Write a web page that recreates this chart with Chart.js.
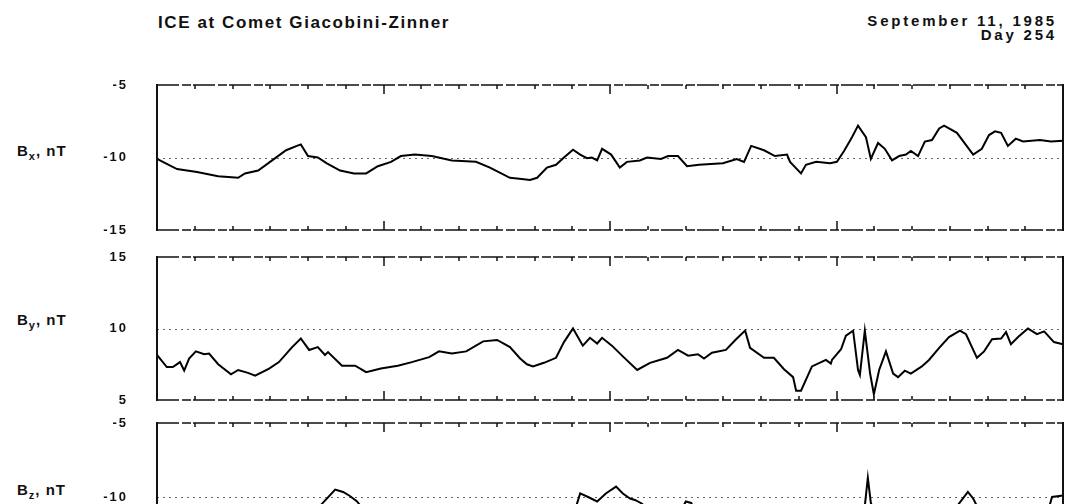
<!doctype html>
<html>
<head>
<title>ICE at Comet Giacobini-Zinner</title>
<script src="https://cdn.jsdelivr.net/npm/chart.js@4.4.0/dist/chart.umd.min.js"></script>
<style>
body { margin:0; background:#fff; overflow:hidden; width:1069px; height:504px;
       font-family:"Liberation Sans", Arial, sans-serif; font-weight:bold; color:#111; }
.txt { position:absolute; white-space:nowrap; }
.title { left:158px; top:14px; font-size:17px; line-height:17px; letter-spacing:1.6px; }
.date { right:12px; top:14px; font-size:15px; line-height:14px; letter-spacing:2.8px; text-align:right; }
.ylab { left:17px; font-size:15px; line-height:15px; letter-spacing:1px; }
.ylab sub { font-size:11px; vertical-align:-4px; line-height:0; }
canvas { position:absolute; left:0; }
</style>
</head>
<body>
<div class="txt title">ICE at Comet Giacobini-Zinner</div>
<div class="txt date">September 11, 1985<br>Day 254</div>
<div class="txt ylab" style="top:143px">B<sub>x</sub>, nT</div>
<div class="txt ylab" style="top:312px">B<sub>y</sub>, nT</div>
<div class="txt ylab" style="top:482px">B<sub>z</sub>, nT</div>

<canvas id="bx" width="1069" height="165" style="top:75px"></canvas>
<canvas id="by" width="1069" height="163" style="top:247px"></canvas>
<canvas id="bz" width="1069" height="168" style="top:413px"></canvas>

<script>
// minutes from start of the 4 hour window
var bxTime = [0, 5.3, 10.6, 16.2, 21.5, 23.3, 26.8, 30.5, 34.2, 37.4, 38.1, 40.0, 42.6, 45.0, 48.5, 52.2, 55.4, 58.5, 62.0, 64.6, 68.3, 72.8, 78.1, 84.5, 88.2, 93.5, 97.2, 98.8, 100.7, 103.3, 105.7, 107.8, 110.2, 112.1, 113.9, 115.2, 116.6, 117.9, 120.3, 122.6, 124.5, 127.9, 129.8, 133.5, 135.4, 138.0, 140.4, 143.6, 149.9, 153.6, 155.5, 157.4, 160.8, 163.7, 166.9, 167.7, 170.6, 171.9, 174.6, 178.3, 180.1, 182.0, 184.1, 185.7, 187.8, 189.1, 191.0, 192.8, 194.7, 196.6, 198.4, 199.7, 201.6, 203.4, 205.3, 207.2, 208.5, 211.9, 216.2, 218.5, 220.4, 222.0, 223.6, 225.4, 227.5, 229.4, 233.9, 236.8, 240];
var bxValues = [-10.1, -10.8, -11.0, -11.3, -11.4, -11.1, -10.9, -10.2, -9.5, -9.16, -9.1, -9.9, -10.0, -10.4, -10.9, -11.1, -11.1, -10.6, -10.3, -9.9, -9.8, -9.9, -10.2, -10.3, -10.7, -11.4, -11.5, -11.55, -11.4, -10.7, -10.5, -10.0, -9.46, -9.8, -10.05, -10.0, -10.2, -9.4, -9.8, -10.7, -10.3, -10.2, -10.0, -10.1, -9.9, -9.9, -10.6, -10.5, -10.4, -10.1, -10.3, -9.2, -9.5, -9.9, -9.8, -10.3, -11.1, -10.5, -10.3, -10.4, -10.3, -9.55, -8.6, -7.8, -8.6, -10.1, -9.0, -9.4, -10.2, -9.9, -9.8, -9.55, -9.9, -8.9, -8.8, -8.0, -7.8, -8.3, -9.8, -9.4, -8.45, -8.2, -8.3, -9.2, -8.7, -8.9, -8.8, -8.9, -8.85];

var byTime = [0, 2.6, 4.2, 6.1, 7.2, 8.5, 10.3, 12.5, 13.8, 16.2, 19.6, 21.5, 24.1, 26.0, 29.7, 32.3, 35.8, 38.1, 40.3, 42.6, 44.5, 45.3, 49.0, 52.5, 55.4, 59.3, 63.8, 67.5, 72.1, 74.7, 78.1, 81.9, 86.4, 90.1, 93.5, 96.2, 98.0, 99.6, 102.5, 105.7, 107.8, 110.2, 112.8, 114.7, 116.6, 117.9, 120.5, 123.4, 127.2, 130.6, 135.1, 138.0, 140.7, 143.3, 144.9, 147.0, 150.7, 153.4, 155.8, 157.1, 160.8, 163.4, 166.1, 168.5, 169.3, 170.6, 173.5, 177.2, 178.5, 178.8, 181.2, 182.5, 184.4, 185.7, 186.2, 187.5, 188.9, 189.9, 191.3, 193.1, 195.0, 196.3, 198.1, 199.7, 202.6, 204.5, 207.2, 209.8, 212.7, 214.3, 217.2, 219.1, 221.2, 223.6, 224.9, 226.2, 228.1, 230.7, 233.1, 235.0, 237.6, 240];
var byValues = [8.15, 7.3, 7.3, 7.65, 7.06, 7.9, 8.4, 8.2, 8.25, 7.5, 6.8, 7.1, 6.9, 6.7, 7.2, 7.65, 8.7, 9.3, 8.5, 8.7, 8.15, 8.35, 7.4, 7.4, 6.95, 7.2, 7.4, 7.65, 8.0, 8.4, 8.25, 8.4, 9.1, 9.2, 8.7, 7.9, 7.5, 7.35, 7.6, 7.95, 9.05, 10.0, 8.8, 9.35, 8.95, 9.35, 8.8, 8.05, 7.1, 7.6, 7.95, 8.5, 8.1, 8.2, 7.9, 8.3, 8.5, 9.25, 9.85, 8.65, 7.95, 7.95, 7.15, 6.6, 5.65, 5.65, 7.35, 7.8, 7.55, 7.8, 8.55, 9.5, 9.85, 7.1, 6.75, 9.85, 6.85, 5.4, 7.1, 8.4, 6.85, 6.6, 7.05, 6.85, 7.35, 7.8, 8.65, 9.4, 9.85, 9.6, 7.95, 8.4, 9.25, 9.3, 9.75, 8.9, 9.4, 10.0, 9.6, 9.8, 9.05, 8.9];

var bzTime = [0, 20, 40.5, 43.2, 47.2, 49.3, 51.1, 53.0, 55.1, 80, 109.4, 110.7, 112.1, 114.2, 116.6, 118.9, 121.6, 123.4, 125.3, 126.6, 128.5, 130.1, 137.5, 138.8, 140.1, 141.5, 142.5, 143.8, 160, 186.2, 187.5, 188.3, 189.1, 190.5, 210.3, 211.7, 214.8, 216.2, 217.2, 218.8, 235.2, 236.3, 237.1, 240];
var bzValues = [-11.8, -12.0, -11.2, -10.6, -9.5, -9.66, -9.93, -10.3, -11.0, -12.0, -11.2, -10.9, -9.76, -10.0, -10.3, -9.76, -9.3, -9.76, -10.1, -10.2, -10.45, -11.0, -11.0, -10.9, -10.3, -10.4, -10.9, -11.2, -12.0, -11.3, -10.6, -8.7, -10.4, -11.3, -11.0, -10.7, -9.65, -10.1, -10.6, -11.1, -11.2, -10.7, -10.0, -9.9];

var tickStep = 10;   // minor tick every 10 minutes
var majorStep = 60;  // long tick every hour

function points(t, v) {
    var out = [];
    for (var i = 0; i < t.length; i++) out.push({x: t[i], y: v[i]});
    return out;
}

// frame, inward ticks and the dotted middle line
var framePlugin = {
    id: 'frame',
    beforeDraw: function(chart) {
        chart.ctx.letterSpacing = '2px';
    },
    beforeDatasetsDraw: function(chart) {
        var ctx = chart.ctx, a = chart.chartArea, ys = chart.scales.y;
        var y = Math.round(ys.getPixelForValue((ys.min + ys.max) / 2)) + 0.5;
        ctx.save();
        ctx.letterSpacing = '0px';
        ctx.strokeStyle = '#666';
        ctx.lineWidth = 1;
        ctx.setLineDash([2, 4]);
        ctx.beginPath();
        ctx.moveTo(a.left, y);
        ctx.lineTo(a.right, y);
        ctx.stroke();
        ctx.restore();
    },
    afterDatasetsDraw: function(chart) {
        var ctx = chart.ctx, a = chart.chartArea, xs = chart.scales.x;
        ctx.save();
        ctx.strokeStyle = '#111';
        // top and bottom
        ctx.lineWidth = 1.5;
        ctx.setLineDash([22, 3, 9, 2]);
        ctx.beginPath();
        ctx.moveTo(a.left, a.top); ctx.lineTo(a.right, a.top);
        ctx.moveTo(a.left, a.bottom); ctx.lineTo(a.right, a.bottom);
        ctx.stroke();
        ctx.setLineDash([]);
        // sides
        ctx.lineWidth = 2;
        ctx.beginPath();
        ctx.moveTo(a.left, a.top - 1); ctx.lineTo(a.left, a.bottom + 1);
        ctx.moveTo(a.right, a.top - 1); ctx.lineTo(a.right, a.bottom + 1);
        ctx.stroke();
        // inward ticks
        ctx.lineWidth = 1.5;
        ctx.beginPath();
        for (var t = xs.min + tickStep; t < xs.max; t += tickStep) {
            var x = Math.round(xs.getPixelForValue(t));
            var len = (t % majorStep === 0) ? 9 : 4;
            ctx.moveTo(x, a.top); ctx.lineTo(x, a.top + len);
            ctx.moveTo(x, a.bottom); ctx.lineTo(x, a.bottom - len);
        }
        ctx.stroke();
        ctx.restore();
    }
};

function makeChart(id, t, v, yMin, yMax) {
    var ctx = document.getElementById(id).getContext('2d');
    return new Chart(ctx, {
        type: 'line',
        data: {
            datasets: [{
                data: points(t, v),
                borderColor: '#000',
                borderWidth: 2,
                pointRadius: 0,
                tension: 0,
                fill: false
            }]
        },
        options: {
            responsive: false,
            animation: false,
            events: [],
            layout: { padding: { top: 10, bottom: 10, right: 6, left: 0 } },
            plugins: { legend: { display: false }, tooltip: { enabled: false } },
            scales: {
                x: {
                    type: 'linear', min: 0, max: 240,
                    display: false
                },
                y: {
                    min: yMin, max: yMax,
                    grid: { display: false, drawTicks: false },
                    border: { display: false },
                    ticks: {
                        stepSize: 5,
                        color: '#111',
                        padding: 29,
                        font: { family: '"Liberation Sans", Arial, sans-serif', size: 13, weight: 'bold' }
                    },
                    afterFit: function(scale) {
                        // keep the wide label gap from growing the top/bottom margins
                        scale.width = 157;
                        scale.paddingTop = 0;
                        scale.paddingBottom = 0;
                    }
                }
            }
        },
        plugins: [framePlugin]
    });
}

window.onload = function() {
    makeChart('bx', bxTime, bxValues, -15, -5);
    makeChart('by', byTime, byValues, 5, 15);
    makeChart('bz', bzTime, bzValues, -15, -5);
};
</script>
</body>
</html>
